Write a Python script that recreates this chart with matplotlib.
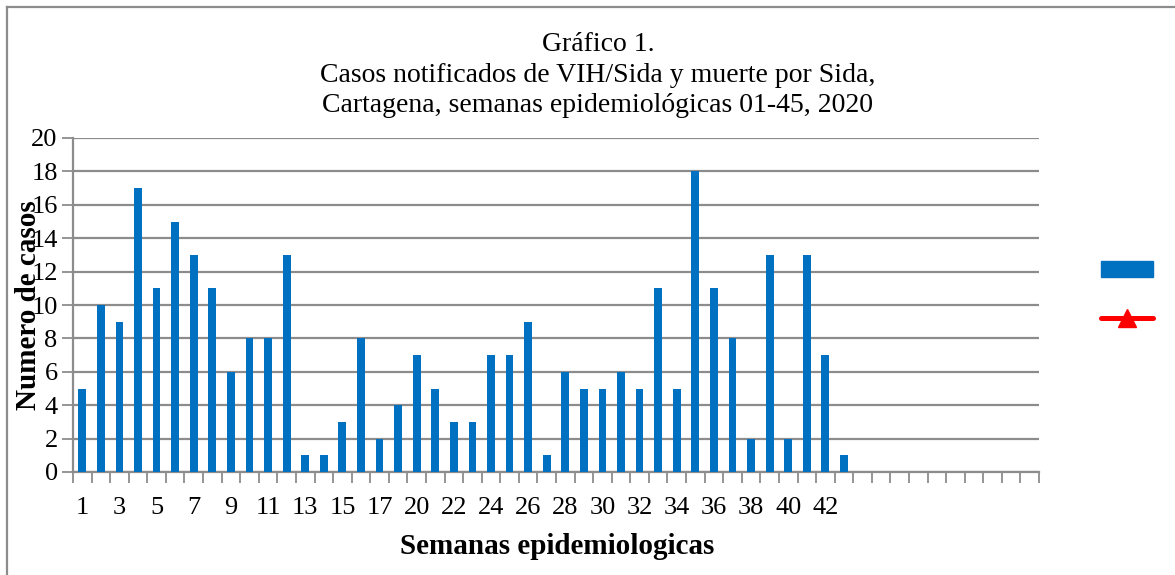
import matplotlib
matplotlib.use('Agg')
import matplotlib.pyplot as plt
import numpy as np
from matplotlib.patches import Patch
from matplotlib.lines import Line2D

# weekly notified cases (weeks shown on the axis, one week missing between 17 and 20)
semanas = [str(s) for s in list(range(1, 18)) + list(range(19, 44))]
casos = [5, 10, 9, 17, 11, 15, 13, 11, 6, 8, 8, 13, 1, 1, 3, 8, 2, 4, 7, 5, 3,
         3, 7, 7, 9, 1, 6, 5, 5, 6, 5, 11, 5, 18, 11, 8, 2, 13, 2, 13, 7, 1]
n_slots = 52  # empty category slots remain at the end of the axis
etiquetas = semanas + [''] * (n_slots - len(semanas))

titulo = ('Gráfico 1.\nCasos notificados de VIH/Sida y muerte por Sida,\n'
          'Cartagena, semanas epidemiológicas 01-45, 2020')

serif = ['Liberation Serif', 'DejaVu Serif']
gris = '#8c8c8c'

fig = plt.figure(figsize=(11.75, 5.75), dpi=100)
ax = fig.add_axes([73/1175, 1 - 472/575, (1039 - 73)/1175, (472 - 138)/575])

x = np.arange(len(casos))
ax.bar(x, casos, width=0.42, color='#0070C0', zorder=3)

ax.set_xlim(-0.5, n_slots - 0.5)
ax.set_ylim(0, 20)
ax.set_yticks(np.arange(0, 21, 2))
ax.yaxis.grid(True, color=gris, lw=1.6, zorder=0)

# category boundaries as ticks, labels on every other category
ax.set_xticks(np.arange(-0.5, n_slots, 1))
ax.set_xticklabels([])
ax.set_xticks(np.arange(0, n_slots, 2), minor=True)
ax.set_xticklabels(etiquetas[::2], minor=True)
ax.tick_params(axis='x', which='major', length=8, width=1.3, color=gris)
ax.tick_params(axis='x', which='minor', length=0, pad=18, labelsize=19)
ax.tick_params(axis='y', length=8, width=1.3, color=gris, pad=3, labelsize=19)
for lab in ax.get_xticklabels(minor=True) + ax.get_yticklabels():
    lab.set_family(serif)

for s in ['top', 'right']:
    ax.spines[s].set_visible(False)
for s in ['left', 'bottom']:
    ax.spines[s].set_color(gris)
    ax.spines[s].set_linewidth(1.6)

fig.text(598/1175, 1 - 32/575, titulo, ha='center', va='top', fontsize=20,
         family=serif, linespacing=1.3)
fig.text(557/1175, 1 - 547/575, 'Semanas epidemiologicas', ha='center', va='center',
         fontsize=21, fontweight='bold', family=serif)
fig.text(29/1175, 1 - 305/575, 'Numero de casos', ha='center', va='center',
         rotation=90, fontsize=21, fontweight='bold', family=serif)

# legend with the two series, no visible text
handles = [Patch(color='#0070C0'),
           Line2D([], [], color='red', lw=3.6, marker='^', markersize=13,
                  solid_capstyle='round')]
fig.legend(handles, ['', ''], loc='center', bbox_to_anchor=(1127/1175, 1 - 295/575),
           frameon=False, handlelength=2.2, handleheight=0.65, labelspacing=1.05,
           handletextpad=0, borderpad=0, fontsize=17)

# outer frame: only top and left edges are visible
fig.add_artist(Line2D([7/1175, 7/1175], [0, 1 - 7/575], transform=fig.transFigure,
                      color=gris, lw=1.6))
fig.add_artist(Line2D([7/1175, 1], [1 - 7/575, 1 - 7/575], transform=fig.transFigure,
                      color=gris, lw=1.6))

fig.savefig('out.png', dpi=100)
